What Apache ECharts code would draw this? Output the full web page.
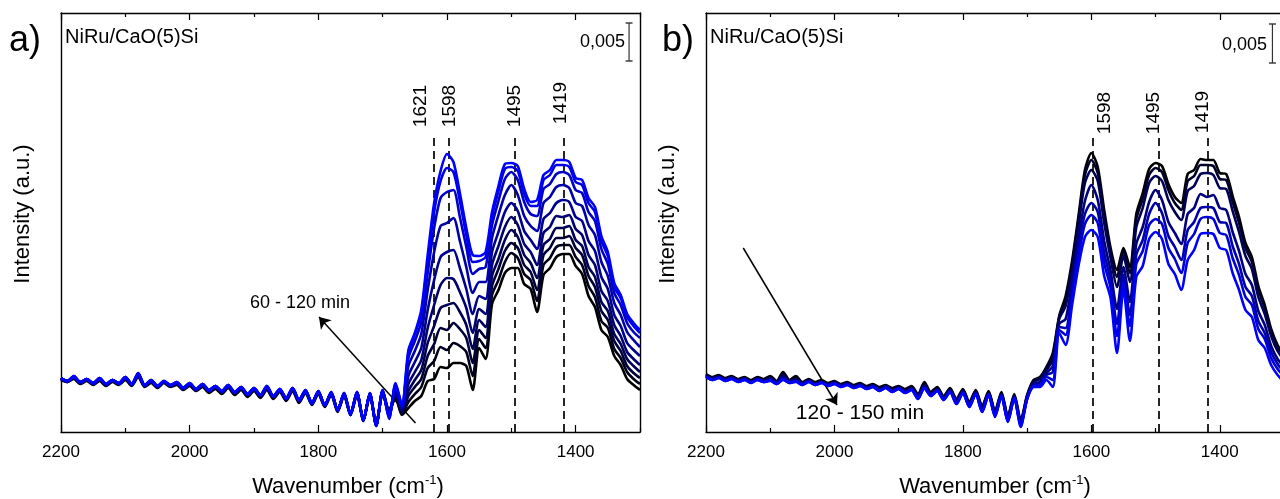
<!DOCTYPE html>
<html>
<head>
<meta charset="utf-8">
<script src="https://cdn.jsdelivr.net/npm/echarts@6/dist/echarts.min.js"></script>
<style>
html,body{margin:0;padding:0;background:#fff;}
#chart{width:1280px;height:499px;}
</style>
</head>
<body>
<div id="chart"></div>
<script>
// ---------- DATA ----------
const wavenumbers = [2200,2190,2180,2170,2160,2150,2140,2130,2120,2110,2100,2090,2080,2070,2060,2050,2040,2030,2020,2010,2000,1990,1980,1970,1960,1950,1940,1930,1920,1910,1900,1890,1880,1870,1860,1850,1840,1830,1820,1810,1800,1790,1780,1770,1760,1750,1740,1730,1720,1710,1700,1690,1680,1670,1660,1650,1640,1630,1620,1610,1600,1590,1580,1570,1560,1550,1540,1530,1520,1510,1500,1490,1480,1470,1460,1450,1440,1430,1420,1410,1400,1390,1380,1370,1360,1350,1340,1330,1320,1310,1300];

const majorTicks = [2200,2000,1800,1600,1400];
const minorTicks = [2100,1900,1700,1500,1300];

// panel a) 60 - 120 min (black -> blue, intensity increasing)
const a1 = [52,50,53,48,51,47,51,46,50,47,52,46,55,45,49,44,49,45,47,42,46,41,45,39,43,38,44,37,42,35,41,34,42,33,40,31,41,29,39,27,38,25,37,20,36,17,37,11,36,8,38,
22,34,17,24,31,36,51,53,65,64,69,69,66,42,84,73,128,142,159,164,164,148,143,120,157,164,175,178,178,166,158,136,125,102,95,76,67,53,47,42];
const a2 = [53,50,55,49,52,48,53,47,51,48,53,47,57,46,50,45,50,46,48,43,47,42,46,40,44,39,45,38,43,36,42,35,43,34,41,32,42,30,40,28,39,26,38,21,37,17,38,12,37,8,39,
20,36,18,30,38,45,64,71,85,82,89,86,80,56,93,84,137,152,170,179,174,158,152,131,167,174,185,187,187,175,167,146,135,111,104,83,74,60,53,48];
const a3 = [54,51,54,50,52,48,52,47,51,48,54,47,56,46,51,45,50,46,49,43,48,42,47,41,45,40,46,39,44,37,43,36,44,35,42,33,43,31,41,28,40,26,39,21,38,18,39,12,38,7,40,
18,37,19,36,45,53,76,88,104,102,109,103,94,69,102,94,146,163,181,189,184,167,160,142,177,184,194,194,196,184,177,156,145,121,112,91,81,66,59,54];
const a4 = [53,51,55,49,53,48,53,48,51,49,54,48,58,46,51,46,50,46,49,44,48,42,47,41,45,40,46,39,44,37,43,36,45,35,42,33,43,31,41,28,40,26,39,22,38,17,39,11,38,7,41,
21,39,20,41,52,62,89,106,124,127,129,120,107,83,112,105,156,173,192,202,195,177,169,154,187,193,204,204,206,192,186,165,155,130,121,98,88,73,66,60];
const a5 = [54,50,55,50,52,49,53,47,52,48,54,47,58,47,51,45,51,47,49,43,48,43,47,41,46,40,46,39,44,38,43,36,45,35,42,33,43,32,41,29,40,27,39,22,38,18,39,12,38,6,41,
16,40,22,48,60,72,104,127,147,154,153,140,124,99,123,118,167,186,205,215,207,188,180,167,199,205,216,215,217,203,197,177,167,141,131,107,96,80,73,67];
const a6 = [53,51,56,49,53,48,54,48,51,49,55,48,57,46,52,46,50,46,50,44,49,42,48,42,45,41,47,39,45,37,44,37,45,35,43,34,43,31,42,28,41,26,40,21,39,18,40,11,39,7,42,
19,42,22,56,70,84,122,152,175,180,182,164,143,118,136,133,180,200,220,229,221,201,192,183,213,219,229,232,230,215,211,191,181,155,143,117,106,89,82,76];
const a7 = [54,50,55,50,52,49,53,47,52,48,54,48,58,47,51,45,51,47,49,43,48,43,47,41,46,40,46,40,44,38,43,36,46,36,42,33,44,32,41,29,40,27,39,22,38,17,39,12,38,6,41,
15,44,24,66,81,98,142,180,206,209,214,191,165,139,150,150,194,217,237,247,237,216,206,201,229,235,245,247,244,229,226,207,197,170,156,129,117,100,92,85];
const a8 = [53,51,56,49,53,49,54,48,52,49,55,47,59,46,52,46,51,46,50,44,49,42,48,42,46,41,47,39,45,38,44,37,46,35,43,34,44,31,42,29,41,26,40,22,39,18,40,11,39,7,42,
17,46,25,74,91,110,159,204,234,240,242,215,185,158,163,165,207,231,253,260,252,230,218,216,243,248,258,260,257,242,239,220,211,183,168,139,127,109,100,94];
const a9 = [54,51,55,50,53,48,53,48,52,48,54,48,58,47,51,46,51,47,49,44,48,43,48,41,46,40,46,40,45,37,43,37,45,36,42,33,44,32,41,28,40,27,39,21,39,17,39,12,38,7,41,
13,48,26,79,98,118,171,220,251,264,260,231,197,170,171,175,215,241,263,265,261,238,226,226,252,257,267,267,265,250,247,229,220,191,176,145,134,115,106,99];
const a10 = [54,51,56,50,53,49,54,48,52,49,55,48,59,47,52,46,51,47,50,44,49,43,48,42,46,41,47,40,45,38,44,37,46,36,43,34,44,32,42,29,41,27,40,22,39,18,40,12,39,7,42,
14,49,27,82,99,122,177,229,261,278,270,239,204,177,176,180,220,246,268,269,266,243,230,232,257,262,272,272,270,254,252,234,225,196,180,149,137,118,109,102];

// panel b) 120 - 150 min (black -> blue, intensity decreasing)
const b1 = [58,55,57,54,56,53,55,52,55,53,56,51,60,52,56,50,53,50,52,49,51,48,50,47,49,46,48,45,47,44,46,43,46,38,50,40,45,36,44,33,43,30,42,26,41,21,40,16,38,12,37,
52,55,65,79,116,136,171,216,262,279,265,222,184,162,184,165,218,239,263,269,266,248,235,229,258,262,273,272,272,259,258,236,215,189,175,146,127,103,87,78];
const b2 = [57,54,56,53,55,52,54,51,54,52,55,50,58,51,54,49,52,49,51,48,50,47,49,46,48,45,47,44,46,43,45,42,45,37,48,39,44,35,43,32,42,29,41,25,40,20,39,15,37,11,36,
51,54,64,76,115,132,167,212,257,272,259,217,180,155,181,159,213,233,257,264,260,242,229,222,251,256,267,267,266,253,252,230,209,184,170,142,124,100,85,76];
const b3 = [57,54,55,53,55,52,54,50,54,51,54,50,57,51,53,49,52,48,51,47,50,47,49,45,48,44,47,43,46,42,45,41,44,36,47,38,43,34,42,31,41,28,40,24,39,19,38,13,36,9,35,
50,53,62,72,113,126,162,206,249,262,251,209,174,145,176,150,205,224,249,256,251,232,220,212,241,246,258,259,257,244,243,221,200,176,163,135,118,96,81,72];
const b4 = [56,53,55,52,54,51,53,50,53,51,53,49,55,50,52,48,51,48,50,47,49,46,48,45,47,44,46,42,45,41,44,40,43,35,46,37,42,33,41,30,40,27,39,22,38,18,37,12,35,8,34,
48,50,59,66,108,113,150,193,231,247,232,191,161,123,165,130,188,205,230,242,232,210,199,188,218,224,238,235,237,224,222,200,181,158,147,121,107,86,73,65];
const b5 = [56,53,55,52,54,51,53,50,53,50,52,49,54,50,51,48,51,47,50,47,49,46,48,45,47,44,46,42,45,41,44,40,43,34,45,37,42,33,41,29,40,26,39,21,38,17,37,11,35,7,34,
47,48,57,60,105,104,142,184,218,229,220,179,152,108,157,117,177,192,218,229,219,196,185,172,202,210,224,225,224,210,209,186,168,145,136,111,99,80,68,60];
const b6 = [55,52,54,51,53,50,52,49,52,50,52,48,53,49,51,47,50,47,49,46,48,45,47,44,46,43,45,41,44,40,43,39,42,33,44,36,41,32,40,28,39,25,38,20,37,16,36,10,34,6,33,
46,47,55,52,102,97,136,176,208,217,209,169,144,96,151,106,168,181,207,213,208,184,173,159,189,198,213,215,213,199,197,174,157,135,127,103,93,74,63,56];
const b7 = [55,52,54,51,53,50,52,49,52,50,51,48,52,49,50,47,50,47,49,46,48,45,47,44,46,43,45,41,44,40,43,39,42,33,44,36,41,32,40,28,39,25,38,20,37,15,36,10,34,5,33,
45,45,52,45,99,87,127,166,195,202,195,156,134,79,143,91,155,166,193,200,193,168,158,142,172,182,198,199,198,184,182,159,142,122,115,92,84,67,57,50];

const seriesA = [a1,a2,a3,a4,a5,a6,a7,a8,a9,a10];
const seriesB = [b1,b2,b3,b4,b5,b6,b7];
const colorsA = ['#000000','#00001c','#000038','#000055','#000071','#00008e','#0000aa','#0000c6','#0000e3','#0000ff'];
const colorsB = ['#000000','#00002a','#000055','#00007f','#0000aa','#0000d4','#0000ff'];

const peaksA = [1621,1598,1495,1419];
const peaksB = [1598,1495,1419];
const peakLabelsA = ['1621','1598','1495','1419'];
const peakLabelsB = ['1598','1495','1419'];

// ---------- CHART ----------
const FONT = 'Liberation Sans, Arial, Helvetica, sans-serif';
const X_MIN = 1300, X_MAX = 2200, Y_MIN = 0, Y_MAX = 419;
const chart = echarts.init(document.getElementById('chart'), null, {renderer:'canvas'});

function xAxes(g){
  const base = {type:'value', gridIndex:g, min:X_MIN, max:X_MAX, inverse:true, splitLine:{show:false}};
  const line = {show:true, onZero:false, lineStyle:{color:'#000', width:1.4}};
  const tickStyle = {color:'#000', width:1.2};
  return [
    Object.assign({}, base, {position:'bottom', axisLine:line,
      axisTick:{show:true, inside:true, length:7, customValues:majorTicks, lineStyle:tickStyle},
      axisLabel:{show:true, customValues:majorTicks, fontSize:17, color:'#000', margin:12, fontFamily:FONT,
        formatter: v => String(v)}}),
    Object.assign({}, base, {position:'bottom', axisLine:{show:false, onZero:false},
      axisTick:{show:true, inside:true, length:4, customValues:minorTicks, lineStyle:tickStyle},
      axisLabel:{show:false}}),
    Object.assign({}, base, {position:'top', axisLine:line,
      axisTick:{show:true, inside:true, length:7, customValues:majorTicks, lineStyle:tickStyle},
      axisLabel:{show:false}}),
    Object.assign({}, base, {position:'top', axisLine:{show:false, onZero:false},
      axisTick:{show:true, inside:true, length:4, customValues:minorTicks, lineStyle:tickStyle},
      axisLabel:{show:false}})
  ];
}
function yAxes(g){
  const base = {type:'value', gridIndex:g, min:Y_MIN, max:Y_MAX, splitLine:{show:false},
    axisTick:{show:false}, axisLabel:{show:false},
    axisLine:{show:true, onZero:false, lineStyle:{color:'#000', width:1.4}}};
  return [Object.assign({}, base, {position:'left'}), Object.assign({}, base, {position:'right'})];
}

function spectra(list, colors, xi, yi){
  return list.map((arr, k) => ({
    type:'line', xAxisIndex:xi, yAxisIndex:yi, name:'s'+k, showSymbol:false, symbol:'none',
    smooth:0.25, z:2+k,
    lineStyle:{color:colors[k], width:2.6},
    data: wavenumbers.map((w,i) => [w, arr[i]])
  }));
}
function peakLines(peaks, top, xi, yi){
  return {
    type:'line', xAxisIndex:xi, yAxisIndex:yi, data:[], z:30,
    markLine:{silent:true, symbol:['none','none'], animation:false,
      label:{show:false},
      lineStyle:{color:'#000', width:1.7, type:[8,5]},
      data: peaks.map(w => [{coord:[w, Y_MIN]}, {coord:[w, top]}])}
  };
}
function arrow(from, to, xi, yi){
  return {
    type:'line', xAxisIndex:xi, yAxisIndex:yi, data:[], z:31,
    markLine:{silent:true, symbol:['none','arrow'], symbolSize:11, animation:false,
      label:{show:false},
      itemStyle:{color:'#000'},
      lineStyle:{color:'#000', width:1.5, type:'solid'},
      data:[[{coord:from},{coord:to}]]}
  };
}
function scaleBar(x, y0, y1, xi, yi){
  return {
    type:'line', xAxisIndex:xi, yAxisIndex:yi, z:32, showSymbol:true, showAllSymbol:true,
    symbol:'rect', symbolSize:[7,1.4], itemStyle:{color:'#333'},
    lineStyle:{color:'#333', width:1.2}, data:[[x,y0],[x,y1]]
  };
}

const series = [].concat(
  spectra(seriesA, colorsA, 0, 0),
  spectra(seriesB, colorsB, 4, 2),
  [peakLines(peaksA, 294, 0, 0), peakLines(peaksB, 297, 4, 2),
   arrow([1649, 9], [1799, 115], 0, 0),
   arrow([2142, 184], [1996, 27], 4, 2),
   scaleBar(1317, 371, 409, 0, 0),
   scaleBar(1318, 369, 408, 4, 2)]
);

function txt(x, y, text, size, align){
  return {type:'text', x:x, y:y, z:100, silent:true,
    style:{text:text, fontSize:size, fontFamily:FONT, fill:'#000', align:align||'left', verticalAlign:'middle'}};
}
function rot(x, y, text, size){
  return {type:'text', x:x, y:y, rotation:Math.PI/2, z:100, silent:true,
    style:{text:text, fontSize:size, fontFamily:FONT, fill:'#000', align:'center', verticalAlign:'middle'}};
}
function xTitle(x){
  return {type:'text', x:x, y:487, z:100, silent:true,
    style:{text:'{m|Wavenumber (cm}{s|-1}{m|)}', align:'center', verticalAlign:'middle',
      rich:{m:{fontSize:22, fontFamily:FONT, fill:'#000', lineHeight:26},
            s:{fontSize:13, fontFamily:FONT, fill:'#000', verticalAlign:'top', lineHeight:14}}}};
}

const peakPosA = [[421,106],[450,106],[515,106],[561,103]];
const peakPosB = [[1105,113],[1154,113],[1203,112]];

const graphic = [
  txt(9, 41, 'a)', 36),
  txt(662, 41, 'b)', 36),
  txt(65, 37, 'NiRu/CaO(5)Si', 20),
  txt(710, 37, 'NiRu/CaO(5)Si', 20),
  txt(625, 42, '0,005', 18, 'right'),
  txt(1267, 45, '0,005', 18, 'right'),
  txt(300, 303, '60 - 120 min', 18, 'center'),
  txt(860, 413, '120 - 150 min', 21, 'center'),
  rot(23, 214, 'Intensity (a.u.)', 22),
  rot(668, 214, 'Intensity (a.u.)', 22),
  xTitle(348),
  xTitle(995)
].concat(
  peakLabelsA.map((t,i) => rot(peakPosA[i][0], peakPosA[i][1], t, 19)),
  peakLabelsB.map((t,i) => rot(peakPosB[i][0], peakPosB[i][1], t, 19))
);

chart.setOption({
  animation:false,
  backgroundColor:'#ffffff',
  textStyle:{fontFamily:FONT},
  grid:[
    {left:61, top:13, width:579, height:419, containLabel:false, outerBoundsMode:'none'},
    {left:706, top:13, width:578, height:419, containLabel:false, outerBoundsMode:'none'}
  ],
  xAxis: xAxes(0).concat(xAxes(1)),
  yAxis: yAxes(0).concat(yAxes(1)),
  series: series,
  graphic: graphic
});
</script>
</body>
</html>
